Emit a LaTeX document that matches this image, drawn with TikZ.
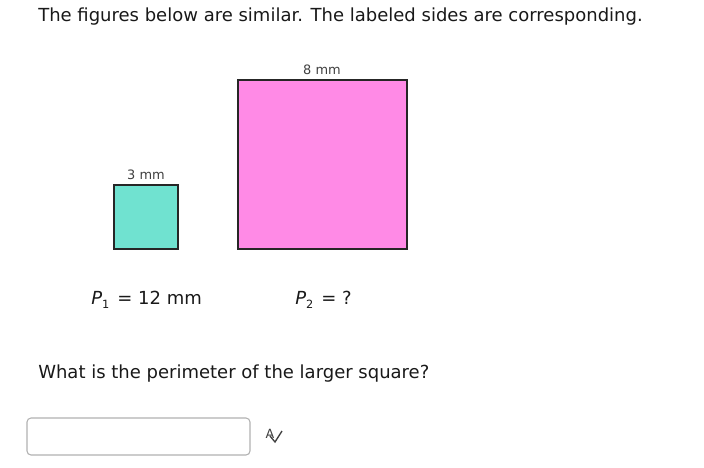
\documentclass[tikz,border=0pt]{standalone}
\usepackage{fontspec}
\setmainfont{DejaVu Sans}
\begin{document}
\begin{tikzpicture}[x=0.75pt,y=-0.75pt,
  txt/.style={inner sep=0pt,anchor=base west,font=\fontsize{13.5pt}{16pt}\selectfont,text=black!90},
  lbl/.style={inner sep=0pt,anchor=base,font=\fontsize{9.7pt}{11pt}\selectfont,text=black!75},
  sq/.style={draw=black!85,line width=1.5pt}]
\useasboundingbox (0,0) rectangle (704,468);
\fill[white] (0,0) rectangle (704,468);
\node[txt] (title) at (38,21) {The figures below are similar. The labeled sides are corresponding.};
\filldraw[sq,fill={rgb,255:red,112;green,226;blue,208}] (114,185) rectangle (178,249);
\node[lbl] (l3) at (146,179) {3 mm};
\filldraw[sq,fill={rgb,255:red,255;green,138;blue,230}] (238,80) rectangle (407,249);
\node[lbl] (l8) at (322,74) {8 mm};
\node[txt] (p1) at (91,304) {\textit{P}\raisebox{-0.25em}{\fontsize{8.5pt}{9pt}\selectfont 1}\hspace{0.45em}= 12 mm};
\node[txt] (p2) at (295,304) {\textit{P}\raisebox{-0.25em}{\fontsize{8.5pt}{9pt}\selectfont 2}\hspace{0.45em}= ?};
\node[txt] (q) at (38,378) {What is the perimeter of the larger square?};
\draw[black!30,line width=0.8pt,rounded corners=3pt] (27,418) rectangle (250,455);
\node[inner sep=0pt,anchor=base,font=\fontsize{9.5pt}{10pt}\selectfont,text=black!75] (icon) at (270,438) {A};
\draw[black!75,line width=1pt] (270,436) -- (275,442) -- (282,431);
\end{tikzpicture}
\end{document}
